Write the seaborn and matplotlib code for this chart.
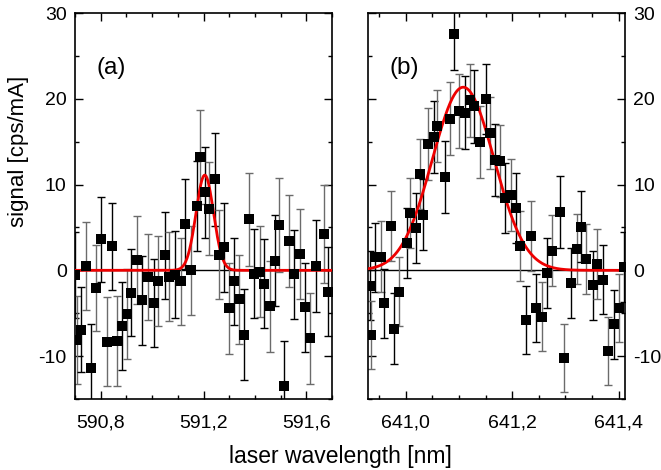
import numpy as np
import pandas as pd
import matplotlib
matplotlib.use("Agg")
import matplotlib.pyplot as plt
from matplotlib.ticker import MultipleLocator, FuncFormatter
import seaborn as sns

# panel (a): 591 nm scan
wl_a = [590.699, 590.708, 590.722, 590.741, 590.761, 590.781, 590.803, 590.823,
        590.843, 590.862, 590.883, 590.901, 590.919, 590.943, 590.962, 590.984,
        591.007, 591.024, 591.049, 591.064, 591.091, 591.111, 591.129, 591.152,
        591.173, 591.187, 591.207, 591.222, 591.245, 591.259, 591.279, 591.301,
        591.317, 591.337, 591.358, 591.377, 591.397, 591.420, 591.436, 591.459,
        591.478, 591.495, 591.515, 591.531, 591.553, 591.576, 591.595, 591.616,
        591.639, 591.667, 591.684]
sig_a = [-0.5, -8.1, -6.9, 0.5, -11.4, -2.1, 3.6, -8.3,
         2.8, -8.25, -6.5, -5.1, -2.6, 1.2, -3.5, -0.75,
         -3.8, -1.25, 1.75, -0.75, -0.5, -1.3, 5.4, 0.0,
         7.5, 13.2, 9.1, 7.2, 10.6, 1.8, 2.7, -4.4,
         -1.3, -3.4, -7.5, 5.95, -0.4, -0.15, -1.55, -4.2,
         1.1, 5.25, -13.5, 3.4, -0.45, 1.9, -4.3, -7.9,
         0.5, 4.2, -2.5]
err_a = [5.0, 5.1, 5.0, 5.1, 5.1, 5.0, 5.0, 5.2,
         5.1, 5.2, 5.1, 5.2, 5.1, 5.1, 5.2, 5.0,
         5.1, 5.2, 5.1, 5.2, 5.1, 5.1, 5.3, 5.2,
         5.3, 5.5, 5.3, 5.4, 5.4, 5.2, 5.2, 5.3,
         5.1, 5.2, 5.3, 5.4, 5.2, 5.3, 5.2, 5.3,
         5.3, 5.5, 5.3, 5.4, 5.2, 5.3, 5.2, 5.3,
         5.4, 5.7, 5.2]

# panel (b): 641 nm scan
wl_b = [640.933, 640.934, 640.943, 640.953, 640.959, 640.972, 640.977, 640.987,
        641.002, 641.007, 641.019, 641.026, 641.032, 641.042, 641.053, 641.059,
        641.073, 641.084, 641.090, 641.100, 641.112, 641.121, 641.129, 641.140,
        641.151, 641.159, 641.167, 641.177, 641.186, 641.198, 641.207, 641.215,
        641.226, 641.235, 641.245, 641.256, 641.266, 641.275, 641.289, 641.297,
        641.310, 641.322, 641.330, 641.338, 641.352, 641.360, 641.370, 641.380,
        641.392, 641.400, 641.410]
sig_b = [-1.8, -7.55, 1.5, 1.6, -3.85, 5.2, -6.8, -2.5,
         3.15, 6.65, 4.9, 11.2, 6.5, 14.7, 15.5, 16.8,
         10.85, 17.7, 27.5, 18.6, 18.4, 19.8, 19.1, 15.0,
         19.95, 16.0, 12.9, 12.8, 8.4, 8.75, 7.3, 2.8,
         -5.8, 4.0, -4.4, -5.4, -0.3, 2.3, 6.8, -10.2,
         -1.5, 2.5, 5.1, 1.3, -1.75, 0.7, -1.1, -9.4,
         -6.3, -4.4, 0.4]
err_b = [4.0, 4.0, 4.0, 4.1, 4.0, 4.1, 4.1, 4.0,
         4.1, 4.1, 4.1, 4.1, 4.1, 4.2, 4.2, 4.2,
         4.2, 4.2, 4.2, 4.3, 4.2, 4.2, 4.2, 4.2,
         4.1, 4.2, 4.2, 4.2, 4.1, 4.2, 4.1, 4.1,
         4.0, 4.1, 4.0, 4.0, 4.1, 4.1, 4.2, 4.0,
         4.1, 4.1, 4.1, 4.1, 4.0, 4.1, 4.0, 4.0,
         4.0, 4.0, 4.1]

# gaussian fit parameters
fit_a = dict(center=591.205, sigma=0.034, amp=11.1)
fit_b = dict(center=641.108, sigma=0.058, amp=21.35)

xlim_a = (590.70, 591.70)
xlim_b = (640.929, 641.412)

sns.set_theme(style="ticks")
plt.rcParams['font.family'] = ['Liberation Sans', 'DejaVu Sans']
plt.rcParams['axes.unicode_minus'] = False
plt.rcParams['text.color'] = 'black'
plt.rcParams['axes.labelcolor'] = 'black'
plt.rcParams['xtick.color'] = 'black'
plt.rcParams['ytick.color'] = 'black'

fig = plt.figure(figsize=(6.61, 4.70), dpi=100)
ax_a = fig.add_axes([75 / 661, 1 - 399 / 470, 257 / 661, 386 / 470])
ax_b = fig.add_axes([368 / 661, 1 - 399 / 470, 257 / 661, 386 / 470])


def comma_fmt(v, pos):
    return f"{v:.1f}".replace(".", ",")


def draw_panel(ax, wl, sig, err, fit, xlim, label, major, minor):
    df = pd.DataFrame({"wl": wl, "sig": sig, "err": err})
    ax.axhline(0, color="black", lw=1.0, zorder=1)
    ecol = ["black" if i % 2 == 0 else "#6b6b6b" for i in range(len(df))]
    for (_, r), c in zip(df.iterrows(), ecol):
        ax.errorbar(r.wl, r.sig, yerr=r.err, fmt="none", ecolor=c,
                    elinewidth=1.0, capsize=3.2, capthick=1.0, zorder=2)
    sns.scatterplot(data=df, x="wl", y="sig", marker="s", s=62, color="black",
                    edgecolor="black", linewidth=0, ax=ax, zorder=4, legend=False)
    xs = np.linspace(xlim[0], xlim[1], 600)
    fit_df = pd.DataFrame({"wl": xs,
                           "y": fit["amp"] * np.exp(-(xs - fit["center"]) ** 2
                                                    / (2 * fit["sigma"] ** 2))})
    sns.lineplot(data=fit_df, x="wl", y="y", color="#ee0000", lw=2.0, ax=ax, zorder=3)
    ax.set_xlim(*xlim)
    ax.set_ylim(-15, 30)
    ax.xaxis.set_major_locator(MultipleLocator(major))
    ax.xaxis.set_minor_locator(MultipleLocator(minor))
    ax.yaxis.set_major_locator(MultipleLocator(10))
    ax.yaxis.set_minor_locator(MultipleLocator(5))
    ax.xaxis.set_major_formatter(FuncFormatter(comma_fmt))
    ax.yaxis.set_major_formatter(FuncFormatter(lambda v, p: f"{v:.0f}"))
    ax.tick_params(which="both", direction="in", top=True, right=True, left=True,
                   bottom=True, width=1.0, colors="black", labelcolor="black",
                   labelsize=14)
    ax.tick_params(which="major", length=6)
    ax.tick_params(which="minor", length=3)
    ax.tick_params(axis="x", which="major", pad=11)
    ax.tick_params(axis="y", which="major", pad=6)
    for s in ax.spines.values():
        s.set_linewidth(1.2)
        s.set_color("black")
    ax.set_xlabel("")
    ax.set_ylabel("")
    ax.text(0.14, 0.857, label, transform=ax.transAxes, fontsize=17.5,
            color="black", ha="center", va="center")


draw_panel(ax_a, wl_a, sig_a, err_a, fit_a, xlim_a, "(a)", 0.4, 0.1)
draw_panel(ax_b, wl_b, sig_b, err_b, fit_b, xlim_b, "(b)", 0.2, 0.05)
ax_b.tick_params(axis="y", labelleft=False, labelright=True)

fig.text(340 / 661, 1 - 456 / 470, "laser wavelength [nm]", fontsize=16.5,
         color="black", ha="center", va="center")
fig.text(19 / 661, 1 - 151 / 470, "signal [cps/mA]", fontsize=16,
         color="black", rotation=90, ha="center", va="center")

fig.savefig("out.png", dpi=100)
